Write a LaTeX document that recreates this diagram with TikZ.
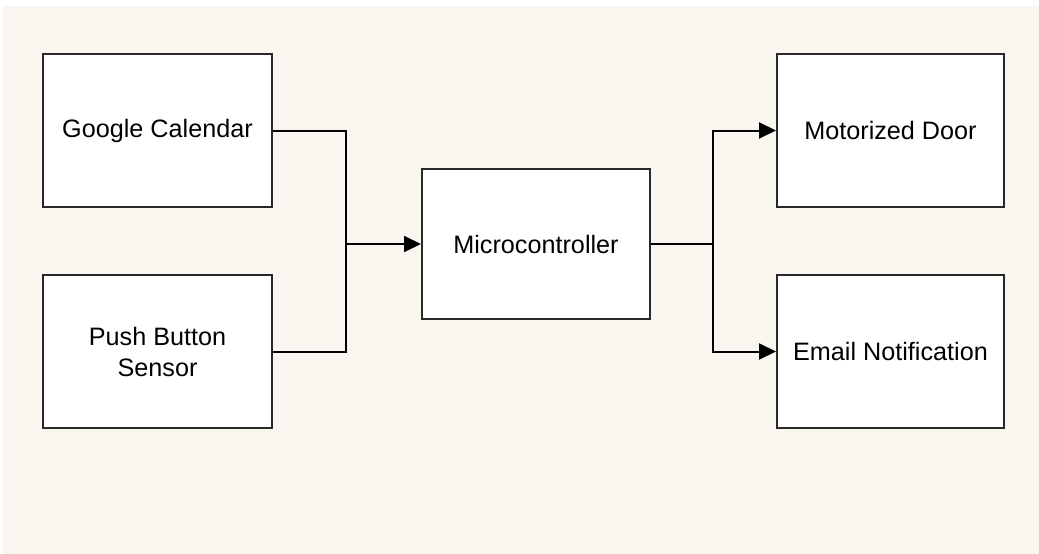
\documentclass[tikz,border=0pt]{standalone}
\usepackage{fontspec}
\setmainfont{Liberation Sans}
\usetikzlibrary{arrows.meta}
\definecolor{paper}{RGB}{249,246,240}
\definecolor{edge}{RGB}{40,40,40}
\tikzset{
  block/.style={draw=edge, line width=2pt, fill=white, align=center,
    inner sep=0pt, font=\fontsize{25.2}{31}\selectfont},
  wire/.style={draw=black, line width=2pt},
  feed/.style={wire, -{Triangle[length=17pt,width=16pt]}}
}
\begin{document}
\begin{tikzpicture}[x=1pt,y=-1pt]
  \useasboundingbox (0,0) rectangle (1039,554);
  \fill[white] (0,0) rectangle (1039,554);
  \fill[paper] (3,6) rectangle (1039,554);

  % input blocks
  \node[block, minimum width=229pt, minimum height=153pt] (gc) at (157.5,130.5) {Google Calendar};
  \node[block, minimum width=229pt, minimum height=153pt] (pb) at (157.5,351.5) {Push Button\\Sensor};
  % controller
  \node[block, minimum width=228pt, minimum height=150pt] (mc) at (536,244) {Microcontroller};
  % outputs
  \node[block, minimum width=227pt, minimum height=153pt] (md) at (890.5,130.5) {Motorized Door};
  \node[block, minimum width=227pt, minimum height=153pt] (en) at (890.5,351.5) {Email Notification};

  % junctions of the merging and splitting wires
  \coordinate (jin) at (346,244);
  \coordinate (jout) at (713,244);

  \draw[wire] (gc.east) -| (jin);
  \draw[wire] (pb.east) -| (jin);
  \draw[feed] (jin) -- (mc.west);

  \draw[wire] (mc.east) -- (jout);
  \draw[feed] (jout) |- (md.west);
  \draw[feed] (jout) |- (en.west);
\end{tikzpicture}
\end{document}
